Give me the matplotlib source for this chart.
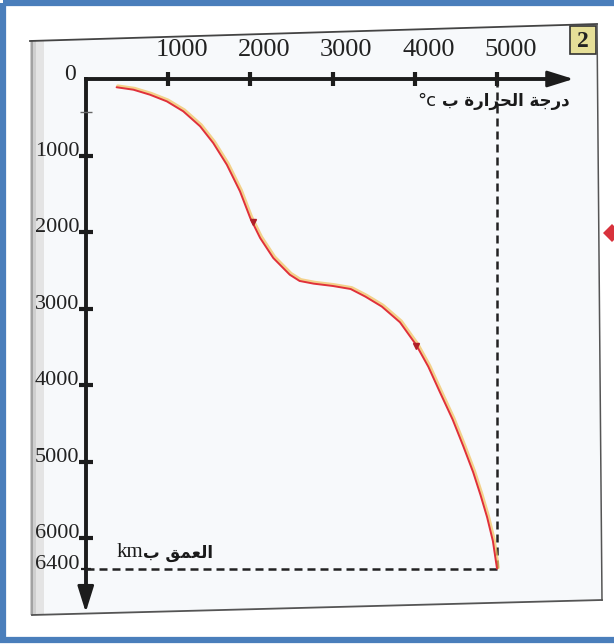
import matplotlib
matplotlib.use('Agg')
import matplotlib.pyplot as plt
import matplotlib.patches as mpatches
import matplotlib.transforms as mtransforms

# axis ticks
temp_ticks = [1000, 2000, 3000, 4000, 5000]
depth_ticks = [1000, 2000, 3000, 4000, 5000, 6000, 6400]
depth_labels = ['1000', '2000', '3000', '4000', '5000', '6000', '6400']

# temperature (°C) vs depth (km)
temp = [375, 580, 780, 985, 1185, 1390, 1550, 1715, 1875, 2000,
        2120, 2280, 2480, 2600, 2770, 3000, 3220, 3400, 3600, 3820,
        4020, 4165, 4300, 4460, 4590, 4710, 4800, 4880, 4950, 5000]
depth = [108, 140, 205, 292, 422, 618, 837, 1120, 1468, 1817,
         2078, 2340, 2558, 2640, 2675, 2705, 2745, 2845, 2975, 3180,
         3480, 3761, 4080, 4450, 4800, 5140, 5440, 5730, 6040, 6400]

# small direction arrows drawn on the curve
arrow_temp = [2030, 4020]
arrow_depth = [1870, 3485]

t_end, d_end = 5000, 6400

x_title = 'درجة الحرارة ب'
y_title = 'العمق ب'

# minimal arabic shaping (isolated, final, initial, medial) + visual order
FORMS = {
    'ا': ('\ufe8d', '\ufe8e', None, None),
    'ب': ('\ufe8f', '\ufe90', '\ufe91', '\ufe92'),
    'ة': ('\ufe93', '\ufe94', None, None),
    'ج': ('\ufe9d', '\ufe9e', '\ufe9f', '\ufea0'),
    'ح': ('\ufea1', '\ufea2', '\ufea3', '\ufea4'),
    'د': ('\ufea9', '\ufeaa', None, None),
    'ر': ('\ufead', '\ufeae', None, None),
    'ع': ('\ufec9', '\ufeca', '\ufecb', '\ufecc'),
    'ق': ('\ufed5', '\ufed6', '\ufed7', '\ufed8'),
    'ل': ('\ufedd', '\ufede', '\ufedf', '\ufee0'),
    'م': ('\ufee1', '\ufee2', '\ufee3', '\ufee4'),
}


def shape_ar(s):
    out = []
    for i, ch in enumerate(s):
        if ch not in FORMS:
            out.append(ch)
            continue
        prev = s[i - 1] if i > 0 else ''
        nxt = s[i + 1] if i + 1 < len(s) else ''
        jp = prev in FORMS and FORMS[prev][2] is not None
        jn = FORMS[ch][2] is not None and nxt in FORMS
        iso, fin, ini, med = FORMS[ch]
        out.append(med if (jp and jn) else fin if jp else ini if jn else iso)
    return ''.join(reversed(out))


W, H = 614, 644
OX, OY = 85.75, 79.0        # pixel position of the origin
SX, SY = 0.08225, 0.0765    # pixels per °C, pixels per km

fig = plt.figure(figsize=(W / 100, H / 100), dpi=100)
fig.patch.set_facecolor('white')

# page / frame decoration in pixel coords
deco = fig.add_axes([0, 0, 1, 1])
deco.set_xlim(0, W)
deco.set_ylim(H, 0)
deco.axis('off')
deco.add_patch(mpatches.Polygon([(32, 41), (597, 24), (602, 600), (32, 615)],
                                closed=True, fc='#f7f9fb', ec='none'))
deco.add_patch(mpatches.Rectangle((30, 41), 6, 574, fc='#cfcfcf', ec='none'))
deco.add_patch(mpatches.Rectangle((36, 41), 8, 574, fc='#e4e4e4', ec='none'))
deco.plot([32, 32], [41, 615], color='#9a9a9a', lw=1.2)
deco.plot([30, 597], [41, 24], color='#444444', lw=1.3)
deco.plot([597, 602], [24, 600], color='#555555', lw=1.1)
deco.plot([32, 602], [615, 600], color='#555555', lw=1.3)
deco.add_patch(mpatches.Rectangle((570, 26), 26, 28, fc='#e6df98', ec='#333333', lw=1.2))
deco.text(583, 41, '2', ha='center', va='center', fontsize=17, fontweight='bold',
          family='Liberation Serif', color='#222222')
deco.add_patch(mpatches.Polygon([(612, 224), (621, 233), (612, 242), (603, 233)],
                                closed=True, fc='#d8323c', ec='none'))
deco.add_patch(mpatches.Rectangle((3, 3), 640, 637, fill=False, ec='#4a7ebb', lw=4.5))

# chart axes: temperature on x, depth downward on y
ax = fig.add_axes([0, 0, 1, 1])
ax.patch.set_alpha(0)
ax.axis('off')
ax.set_xlim(-OX / SX, (W - OX) / SX)
ax.set_ylim((H - OY) / SY, -OY / SY)

axc = '#1c1c1c'
ax.plot([0, 5650], [0, 0], color=axc, lw=2.8, solid_capstyle='projecting')
ax.plot([0, 0], [0, 6700], color=axc, lw=2.8, solid_capstyle='projecting')
ax.annotate('', xy=(5930, 0), xytext=(5600, 0),
            arrowprops=dict(arrowstyle='-|>,head_length=1.6,head_width=0.5',
                            lw=2.0, color=axc, shrinkA=0, shrinkB=0))
ax.annotate('', xy=(0, 6970), xytext=(0, 6650),
            arrowprops=dict(arrowstyle='-|>,head_length=1.6,head_width=0.5',
                            lw=2.0, color=axc, shrinkA=0, shrinkB=0))

ax.plot(temp_ticks, [0] * len(temp_ticks), ls='none', marker='|', ms=10, mew=3, color=axc)
ax.plot([0] * 6, depth_ticks[:6], ls='none', marker='_', ms=10, mew=3, color=axc)
ax.plot([0], [6400], ls='none', marker='_', ms=7, mew=1.6, color=axc)
ax.plot([0], [430], ls='none', marker='_', ms=8, mew=1.0, color='#666666')

serif = 'Liberation Serif'
for t in temp_ticks:
    ax.annotate(str(t), xy=(t, 0), xytext=(10, 21), textcoords='offset points',
                ha='center', va='center', fontsize=19, family=serif, color='#222222')
for d, lbl in zip(depth_ticks, depth_labels):
    ax.annotate(lbl, xy=(0, d), xytext=(-4.5, 3), textcoords='offset points',
                ha='right', va='center', fontsize=16, family=serif, color='#222222')
ax.annotate('0', xy=(0, 0), xytext=(-11.5, 3.5), textcoords='offset points',
            ha='center', va='center', fontsize=17, family=serif, color='#222222')

# guide lines to the centre of the earth
ax.plot([t_end, t_end], [0, d_end], color='#222222', lw=1.8, dashes=(3.2, 2))
ax.plot([0, t_end], [d_end, d_end], color='#222222', lw=1.8, dashes=(3.2, 2))

# the geotherm, with the yellowish print halo
halo = mtransforms.offset_copy(ax.transData, fig=fig, x=1.2, y=1.2, units='dots')
ax.plot(temp, depth, color='#f2c05a', lw=2.4, alpha=0.7, transform=halo,
        solid_capstyle='round', solid_joinstyle='round')
ax.plot(temp, depth, color='#e0303a', lw=1.4, solid_capstyle='round',
        solid_joinstyle='round')
ax.plot(arrow_temp, arrow_depth, ls='none', marker='v', ms=4, color='#b02028')

# axis titles
ax.text(4258, 290, '°c', ha='right', va='center', fontsize=13, family='DejaVu Sans',
        color='#1a1a1a')
ax.text(4331, 290, shape_ar(x_title), ha='left', va='center', fontsize=12,
        fontweight='bold', family='DejaVu Sans', color='#1a1a1a')
ax.text(696, 6196, 'km', ha='right', va='center', fontsize=15, family=serif,
        color='#1a1a1a')
ax.text(696, 6196, shape_ar(y_title), ha='left', va='center', fontsize=12,
        fontweight='bold', family='DejaVu Sans', color='#1a1a1a')

fig.savefig('out.png', dpi=100)
